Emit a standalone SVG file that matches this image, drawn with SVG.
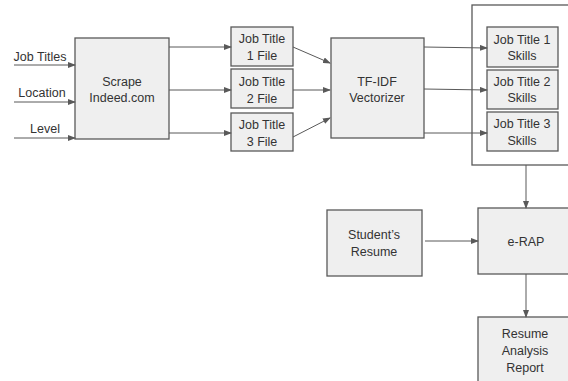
<svg xmlns="http://www.w3.org/2000/svg" width="568" height="381" viewBox="0 0 568 381">
<defs>
<marker id="ah" markerWidth="8" markerHeight="6" refX="7" refY="3" orient="auto" markerUnits="userSpaceOnUse">
<path d="M0,0 L8,3 L0,6 Z" fill="#595959"/>
</marker>
<style>
.box{fill:#efefef;stroke:#595959;stroke-width:1.3}
.cont{fill:none;stroke:#595959;stroke-width:1.3}
.t{font-family:"Liberation Sans",Arial,sans-serif;font-size:12.5px;fill:#333;text-anchor:middle}
.c{stroke:#595959;stroke-width:1;fill:none;marker-end:url(#ah)}
</style>
</defs>
<rect width="568" height="381" fill="#fff"/>
<g id="inputs">
<text class="t" x="40" y="61">Job Titles</text>
<text class="t" x="42" y="97">Location</text>
<text class="t" x="45" y="133">Level</text>
</g>
<g id="scrape"><rect class="box" x="75" y="38" width="94" height="101"/>
<text class="t" x="122" y="86">Scrape</text><text class="t" x="122" y="102">Indeed.com</text></g>
<g id="file1"><rect class="box" x="231" y="27" width="62" height="39"/>
<text class="t" x="262" y="43">Job Title</text><text class="t" x="262" y="60">1 File</text></g>
<g id="file2"><rect class="box" x="231" y="69" width="62" height="39"/>
<text class="t" x="262" y="86">Job Title</text><text class="t" x="262" y="103">2 File</text></g>
<g id="file3"><rect class="box" x="231" y="113" width="62" height="38"/>
<text class="t" x="262" y="129">Job Title</text><text class="t" x="262" y="146">3 File</text></g>
<g id="tfidf"><rect class="box" x="331" y="38" width="93" height="100"/>
<text class="t" x="377" y="86">TF-IDF</text><text class="t" x="377" y="102">Vectorizer</text></g>
<g id="container"><rect class="cont" x="472" y="5" width="106" height="160"/></g>
<g id="skills1"><rect class="box" x="487" y="27" width="71" height="40"/>
<text class="t" x="522" y="44">Job Title 1</text><text class="t" x="522" y="60">Skills</text></g>
<g id="skills2"><rect class="box" x="487" y="70" width="71" height="39"/>
<text class="t" x="522" y="86">Job Title 2</text><text class="t" x="522" y="102">Skills</text></g>
<g id="skills3"><rect class="box" x="487" y="112" width="71" height="39"/>
<text class="t" x="522" y="128">Job Title 3</text><text class="t" x="522" y="145">Skills</text></g>
<g id="resume"><rect class="box" x="327" y="210" width="95" height="66"/>
<text class="t" x="374" y="239">Student’s</text><text class="t" x="374" y="256">Resume</text></g>
<g id="erap"><rect class="box" x="478" y="208" width="96" height="66"/>
<text class="t" x="526" y="246">e-RAP</text></g>
<g id="report"><rect class="box" x="478" y="317" width="96" height="70"/>
<text class="t" x="525" y="338">Resume</text><text class="t" x="525" y="355">Analysis</text><text class="t" x="525" y="372">Report</text></g>
<g id="connectors">
<line class="c" x1="14" y1="65" x2="75" y2="65"/>
<line class="c" x1="14" y1="102" x2="75" y2="102"/>
<line class="c" x1="14" y1="138" x2="75" y2="138"/>
<line class="c" x1="169" y1="47" x2="231" y2="47"/>
<line class="c" x1="169" y1="90" x2="231" y2="90"/>
<line class="c" x1="169" y1="133" x2="231" y2="133"/>
<line class="c" x1="293" y1="47" x2="330" y2="63"/>
<line class="c" x1="293" y1="90" x2="330" y2="90"/>
<line class="c" x1="293" y1="137" x2="330" y2="118"/>
<line class="c" x1="424" y1="47" x2="487" y2="48"/>
<line class="c" x1="424" y1="89" x2="487" y2="90"/>
<line class="c" x1="424" y1="133" x2="487" y2="133"/>
<line class="c" x1="526" y1="165" x2="526" y2="208"/>
<line class="c" x1="425" y1="241" x2="478" y2="241"/>
<line class="c" x1="526" y1="274" x2="526" y2="317"/>
</g>
</svg>
